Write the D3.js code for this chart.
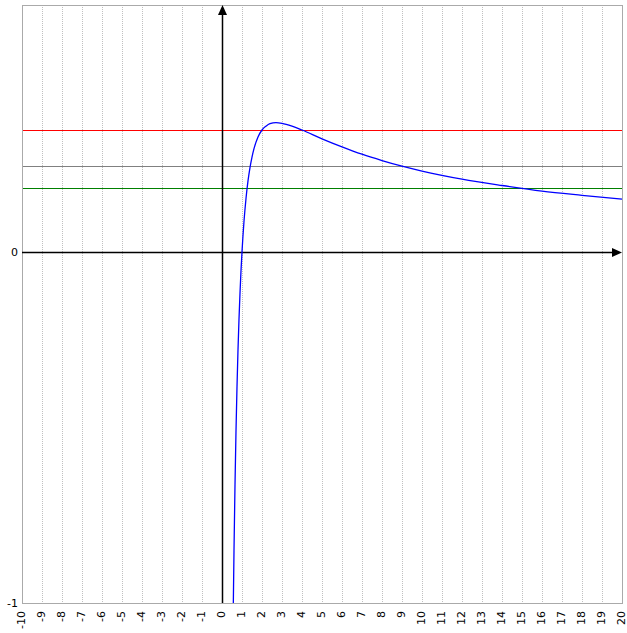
<!DOCTYPE html>
<html>
<head>
<meta charset="utf-8">
<script src="https://cdn.jsdelivr.net/npm/d3@7"></script>
<style>
  body { margin: 0; background: #fff; }
  svg { display: block; }
  .tick-label { font-family: "DejaVu Sans", sans-serif; font-size: 11px; fill: #000; }
</style>
</head>
<body>
<svg width="627" height="633"></svg>
<script>
// curve samples (x, y)
var curveX = [0.567, 0.6, 0.65, 0.7, 0.75, 0.8, 0.85, 0.9, 0.95, 1.0, 1.1, 1.2, 1.3, 1.4, 1.5, 1.6, 1.8, 2.0, 2.2, 2.4, 2.7, 3.0, 3.5, 4, 5, 6, 7, 8, 9, 10, 12, 14, 16, 18, 20];
var curveY = [-1.0, -0.851, -0.663, -0.510, -0.384, -0.279, -0.191, -0.117, -0.054, 0, 0.087, 0.152, 0.202, 0.240, 0.270, 0.294, 0.327, 0.347, 0.358, 0.365, 0.368, 0.366, 0.358, 0.347, 0.322, 0.299, 0.278, 0.260, 0.244, 0.230, 0.207, 0.189, 0.173, 0.161, 0.150];

// horizontal reference lines
var hLineValues = [0.3466, 0.2441, 0.1805];
var hLineColors = ["red", "gray", "green"];

var xTicks = d3.range(-10, 21);
var yTickValues = [-1, 0];
var yTickLabels = ["-1", "0"];

var svg = d3.select("svg");

var x = d3.scaleLinear().domain([-10, 20]).range([22, 622]);
var y = d3.scaleLinear().domain([-1, 0.703]).range([603, 5]);

var g = {
  grid: svg.append("g").attr("id", "grid"),
  frame: svg.append("g").attr("id", "frame"),
  hlines: svg.append("g").attr("id", "hlines"),
  axes: svg.append("g").attr("id", "axes"),
  curve: svg.append("g").attr("id", "curve"),
  labels: svg.append("g").attr("id", "labels")
};

// dotted vertical grid
g.grid.selectAll("line")
  .data(xTicks.filter(function(d) { return d > -10 && d < 20; }))
  .enter()
  .append("line")
  .attr("x1", function(d) { return Math.round(x(d)) + 0.5; })
  .attr("x2", function(d) { return Math.round(x(d)) + 0.5; })
  .attr("y1", y(0.703) + 2)
  .attr("y2", y(-1))
  .attr("stroke", "#c0c0c0")
  .attr("stroke-dasharray", "1,1")
  .attr("shape-rendering", "crispEdges");

// frame
g.frame.append("rect")
  .attr("x", x(-10) + 0.5)
  .attr("y", y(0.703) + 0.5)
  .attr("width", x(20) - x(-10))
  .attr("height", y(-1) - y(0.703))
  .attr("fill", "none")
  .attr("stroke", "#aaaaaa")
  .attr("shape-rendering", "crispEdges");

// horizontal lines
g.hlines.selectAll("line")
  .data(hLineValues)
  .enter()
  .append("line")
  .attr("x1", x(-10) + 1)
  .attr("x2", x(20))
  .attr("y1", function(d) { return Math.round(y(d)) + 0.5; })
  .attr("y2", function(d) { return Math.round(y(d)) + 0.5; })
  .style("stroke", function(d, i) { return hLineColors[i]; })
  .style("stroke-width", "1px")
  .attr("shape-rendering", "crispEdges");

// axes
var x0 = Math.round(x(0)) + 0.5;
var y0 = Math.round(y(0)) + 0.5;
g.axes.append("line")
  .attr("x1", x(-10)).attr("x2", x(20) - 4)
  .attr("y1", y0).attr("y2", y0)
  .attr("stroke", "#000").attr("stroke-width", 1.5);
g.axes.append("line")
  .attr("x1", x0).attr("x2", x0)
  .attr("y1", y(-1)).attr("y2", y(0.703) + 4)
  .attr("stroke", "#000").attr("stroke-width", 1.5);
g.axes.append("path")
  .attr("d", "M" + x0 + "," + y(0.703) + "L" + (x0 - 4.5) + "," + (y(0.703) + 10) + "L" + (x0 + 4.5) + "," + (y(0.703) + 10) + "Z")
  .attr("fill", "#000");
g.axes.append("path")
  .attr("d", "M" + x(20) + "," + y0 + "L" + (x(20) - 10) + "," + (y0 - 4.5) + "L" + (x(20) - 10) + "," + (y0 + 4.5) + "Z")
  .attr("fill", "#000");

// curve
var line = d3.line()
  .x(function(d) { return x(d[0]); })
  .y(function(d) { return y(d[1]); })
  .curve(d3.curveMonotoneX);

g.curve.append("path")
  .datum(curveX.map(function(d, i) { return [d, curveY[i]]; }))
  .attr("d", line)
  .attr("fill", "none")
  .attr("stroke", "#0000ff")
  .attr("stroke-width", 1.3);

// x tick labels (rotated)
g.labels.selectAll("text.xlab")
  .data(xTicks)
  .enter()
  .append("text")
  .attr("class", "tick-label xlab")
  .attr("transform", function(d) { return "translate(" + (x(d) + 3) + "," + 611 + ") rotate(-90)"; })
  .attr("text-anchor", "end")
  .text(function(d) { return d; });

// y tick labels
g.labels.selectAll("text.ylab")
  .data(yTickValues)
  .enter()
  .append("text")
  .attr("class", "tick-label ylab")
  .attr("x", 18)
  .attr("y", function(d) { return y(d) + 4; })
  .attr("text-anchor", "end")
  .text(function(d, i) { return yTickLabels[i]; });
</script>
</body>
</html>
